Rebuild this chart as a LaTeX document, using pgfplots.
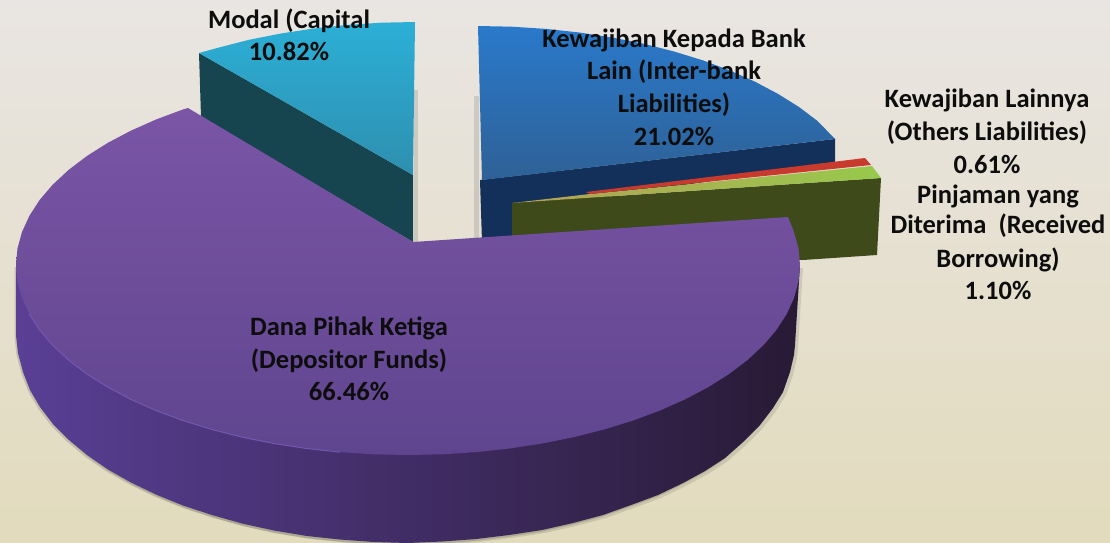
\documentclass[border=0pt]{standalone}
\usepackage{fontspec}
\usepackage{pgfplots}
\usepackage{pgfplotstable}
\pgfplotsset{compat=1.18}
\setmainfont{Carlito}
\definecolor{bgT}{HTML}{E9E5E2}\definecolor{bgM}{HTML}{EEE8DA}\definecolor{bgB}{HTML}{E2DBBD}
\definecolor{cyT}{HTML}{2CAFD6}\definecolor{cyB}{HTML}{2E8FAF}\definecolor{cyS}{HTML}{17454F}
\definecolor{blT}{HTML}{2A79CB}\definecolor{blB}{HTML}{2E6196}\definecolor{blS}{HTML}{13305A}
\definecolor{olS}{HTML}{3F4A1A}\definecolor{grT}{HTML}{97C94C}\definecolor{grL}{HTML}{B5A055}\definecolor{rdT}{HTML}{C93A2E}
\definecolor{puT}{HTML}{7B55A6}\definecolor{puB}{HTML}{5F458F}\definecolor{puR}{HTML}{7458B0}
\definecolor{psL}{HTML}{5A3F95}\definecolor{psM}{HTML}{3D2A58}\definecolor{psR}{HTML}{281A35}
\pgfplotstableread{
x y
16 265
16 335
18 353
23 372
30 390
40 407
53 424
69 440
87 455
108 469.5
131 482.5
156 494.5
183 505.5
212 515
242 523.5
274 530.5
307 536
340 539.5
374 542
408 543
442 541.5
476 539
509 535
542 530
573 523
603 515
631 505
658 495
683 483
705 471
725 458
743 442
760 425
773 408
783 392
790 372
794 355
795 345
800 265
}\sidetable
\pgfplotstableread{
x y
413 242
188 108
183.1 109.4
156 119.5
130.8 130.7
107.7 142.9
86.9 156
68.5 170
52.7 184.7
39.6 200
29.4 215.8
22 232
17.5 248.4
16 265
17.5 281.6
22 298
29.4 314.2
39.6 330
52.7 345.3
68.5 360
86.9 374
107.7 387.1
130.8 399.3
156 410.5
183.1 420.6
212 429.5
242.3 437.2
273.9 443.5
306.6 448.5
339.9 452.1
373.8 454.3
408 455
442.2 454.3
476.1 452.1
509.4 448.5
542.1 443.5
573.7 437.2
604 429.5
632.9 420.6
660 410.5
685.2 399.3
708.3 387.1
729.1 374
747.5 360
763.3 345.3
776.4 330
786.6 314.2
794 298
798.5 281.6
800 265
798.5 248.4
794 232
788 217
}\toptable
\newcommand{\lab}[3]{\node[anchor=base,inner sep=0pt,font=\fontsize{26.5}{30}\selectfont\bfseries,text=black!95] at (axis cs:#1,#2) {#3};}
\begin{document}
\begin{tikzpicture}
\begin{axis}[scale only axis,width=1110pt,height=542pt,xmin=0,xmax=1110,ymin=0,ymax=542,y dir=reverse,hide axis,clip=true]
% background
\addplot[draw=none,mark=none,top color=bgT,middle color=bgM,bottom color=bgB,forget plot] coordinates {(0,0)(1110,0)(1110,542)(0,542)};
% capital wedge
\addplot[draw=none,mark=none,fill=gray,opacity=.25,forget plot] coordinates {(414,90)(418,90)(418,242)(414,242)};
\addplot[draw=none,mark=none,fill=cyS,forget plot] coordinates {(199,53)(413,175)(413,242)(201,117)};
\addplot[draw=none,mark=none,top color=cyT,bottom color=cyB,forget plot] coordinates {(199,53)(219,47.5)(249,39.8)(281,33.5)(313.5,28.5)(347,24.9)(381,22.7)(415,22)(413,175)};
% inter-bank wedge
\addplot[draw=none,mark=none,fill=gray,opacity=.25,forget plot] coordinates {(474,96)(479,96)(479,238)(474,238)};
\addplot[draw=none,mark=none,fill=blS,forget plot] coordinates {(480,180)(835,139)(835,162)(600,198)(514,206)(514,242)(482,242)};
\addplot[draw=none,mark=none,top color=blT,bottom color=blB,forget plot] coordinates {(478,26)(512,26.7)(546,28.9)(579.5,32.5)(612,37.5)(644,43.8)(674,51.5)(703,60.4)(730,70.5)(755,81.7)(778,93.9)(799,107)(817.5,121)(835,139)(482,180)};
% received borrowing
\addplot[draw=none,mark=none,fill=olS,forget plot] coordinates {(512,203)(881,178)(877,255)(803,260)(512,240)};
\addplot[draw=none,mark=none,left color=grL,right color=grT,forget plot] coordinates {(512,203)(590,194)(872,166)(881,178)};
% others liabilities
\addplot[draw=none,mark=none,fill=rdT,forget plot] coordinates {(586,192)(865,158)(871,165)(590,194)};
% depositor funds: soft shadow, side, top
\addplot[draw=none,mark=none,fill=black,opacity=.10,xshift=3pt,yshift=-3pt,forget plot] table {\sidetable};
\addplot[draw=none,mark=none,fill=black,opacity=.14,xshift=-1.5pt,yshift=-2pt,forget plot] table {\sidetable};
\addplot[draw=none,mark=none,left color=psL,middle color=psM,right color=psR,forget plot] table {\sidetable};
\addplot[draw=none,mark=none,top color=puT,bottom color=puB,forget plot] table {\toptable};
% lighter rim of the top face
\addplot[puR,line width=1pt,mark=none,forget plot] coordinates {(29.4,314.2)(39.6,330)(52.7,345.3)(68.5,360)(86.9,374)(107.7,387.1)(130.8,399.3)(156,410.5)(183.1,420.6)(212,429.5)(242.3,437.2)(273.9,443.5)(306.6,448.5)(339.9,452.1)};
% labels
\lab{289}{28}{Modal (Capital}
\lab{289}{60}{10.82\%}
\lab{674}{47}{Kewajiban Kepada Bank}
\lab{674}{79}{Lain (Inter-bank}
\lab{674}{112}{Liabilities)}
\lab{674}{145}{21.02\%}
\lab{987}{107}{Kewajiban Lainnya}
\lab{987}{140}{(Others Liabilities)}
\lab{987}{173}{0.61\%}
\lab{998}{203.5}{Pinjaman yang}
\lab{998}{233}{Diterima\ \ (Received}
\lab{998}{267}{Borrowing)}
\lab{998}{299}{1.10\%}
\lab{349}{335}{Dana Pihak Ketiga}
\lab{349}{368}{(Depositor Funds)}
\lab{349}{400}{66.46\%}
\end{axis}
\end{tikzpicture}
\end{document}
